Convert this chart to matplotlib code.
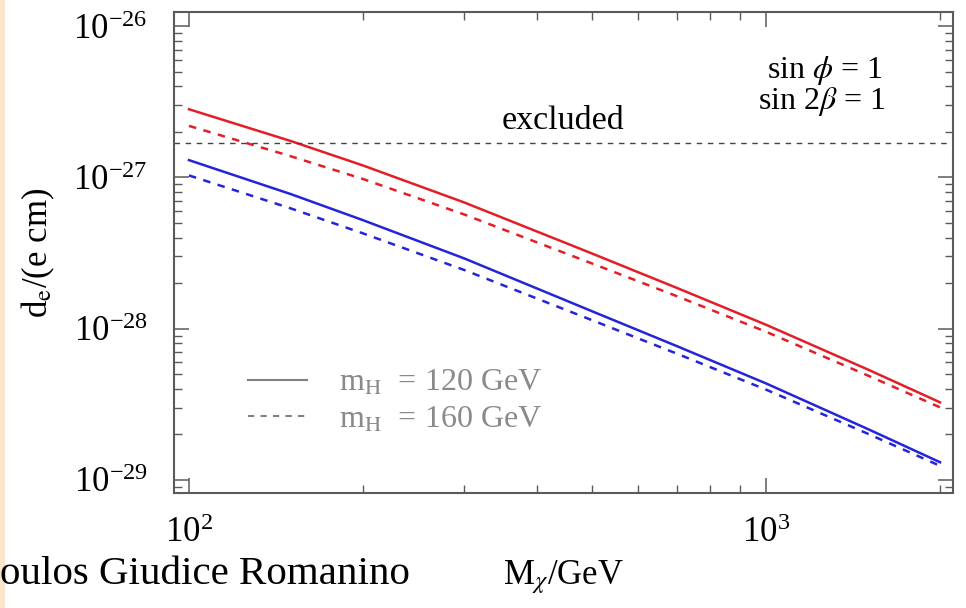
import matplotlib
matplotlib.use("Agg")
import matplotlib.pyplot as plt
from matplotlib.lines import Line2D
from matplotlib.patches import Rectangle
from matplotlib.ticker import LogLocator, NullFormatter

plt.rcParams['font.family'] = ['Liberation Serif', 'DejaVu Serif']
plt.rcParams['mathtext.fontset'] = 'stix'

# chargino mass (GeV)
m_chi = [100, 150, 200, 300, 500, 700, 1000, 1500, 2000]

# electron EDM in units of 1e-27 e cm
de_red_120 = [2.82, 1.74, 1.20, 0.682, 0.313, 0.186, 0.106, 0.0537, 0.0326]
de_red_160 = [2.19, 1.38, 0.977, 0.568, 0.269, 0.164, 0.0953, 0.0490, 0.0302]
de_blue_120 = [1.30, 0.776, 0.522, 0.291, 0.130, 0.0767, 0.0434, 0.0217, 0.0131]
de_blue_160 = [1.03, 0.624, 0.427, 0.244, 0.1135, 0.0684, 0.0395, 0.0202, 0.0124]

de_limit = 1.7  # experimental bound, 1e-27 e cm

legend_labels = [r'm$_{\mathrm{H}}$  = 120 GeV', r'm$_{\mathrm{H}}$  = 160 GeV']

unit = 1e-27
red = '#e41e26'
blue = '#2424d8'
frame = '#5a5a5a'

fig = plt.figure(figsize=(9.66, 6.08), dpi=100)
ax = fig.add_axes([174/966, 1 - 493/608, 779/966, 481/608])

ax.plot(m_chi, [v*unit for v in de_red_120], color=red, lw=1.8)
ax.plot(m_chi, [v*unit for v in de_red_160], color=red, lw=1.8, dashes=(3, 3))
ax.plot(m_chi, [v*unit for v in de_blue_120], color=blue, lw=1.8)
ax.plot(m_chi, [v*unit for v in de_blue_160], color=blue, lw=1.8, dashes=(3, 3))
ax.axhline(de_limit*unit, color='#444444', lw=1.0, dashes=(4, 4))

ax.set_xscale('log')
ax.set_yscale('log')
ax.set_xlim(94.2, 2106)
ax.set_ylim(10**-29.086, 10**-25.907)

ax.xaxis.set_major_locator(LogLocator(base=10, numticks=10))
ax.xaxis.set_minor_locator(LogLocator(base=10, subs=range(2, 10), numticks=20))
ax.yaxis.set_major_locator(LogLocator(base=10, numticks=10))
ax.yaxis.set_minor_locator(LogLocator(base=10, subs=range(2, 10), numticks=20))
ax.xaxis.set_minor_formatter(NullFormatter())
ax.yaxis.set_minor_formatter(NullFormatter())

ax.tick_params(which='both', direction='in', top=True, right=True, color=frame)
ax.tick_params(which='major', length=11, width=1.1, labelsize=25)
ax.tick_params(which='minor', length=6, width=1.0)
ax.tick_params(axis='y', which='major', pad=19)
ax.tick_params(axis='x', which='major', pad=17)
for s in ax.spines.values():
    s.set_color(frame)
    s.set_linewidth(1.5)

ax.set_xlabel(r'M$_{\chi}$/GeV', fontsize=25, labelpad=6)
ax.set_ylabel(r'd$_{\mathrm{e}}$/(e cm)', fontsize=25, labelpad=12)

ax.text(0.4994, de_limit*unit*1.1, 'excluded', fontsize=24.5, ha='center', va='bottom',
        transform=ax.get_yaxis_transform())
ax.text(0.835, 0.878, r'sin $\phi$ = 1', fontsize=23, ha='center', va='center',
        transform=ax.transAxes)
ax.text(0.832, 0.813, r'sin 2$\beta$ = 1', fontsize=23, ha='center', va='center',
        transform=ax.transAxes)

handles = [Line2D([], [], color='#808080', lw=1.5),
           Line2D([], [], color='#808080', lw=1.5, dashes=(3, 3))]
ax.legend(handles, legend_labels, loc='center left', bbox_to_anchor=(0.0744, 0.19),
          frameon=False, fontsize=23, labelcolor='#8a8a8a', handlelength=1.85,
          handletextpad=1.0, labelspacing=0.22, borderpad=0)

fig.text(0, 1 - 584/608, 'oulos Giudice Romanino', fontsize=29.5, ha='left',
         va='baseline')
fig.patches.append(Rectangle((0, 0), 4/966, 1, transform=fig.transFigure,
                             color='#fbe6cc', zorder=-1))

fig.savefig('out.png', dpi=100)
